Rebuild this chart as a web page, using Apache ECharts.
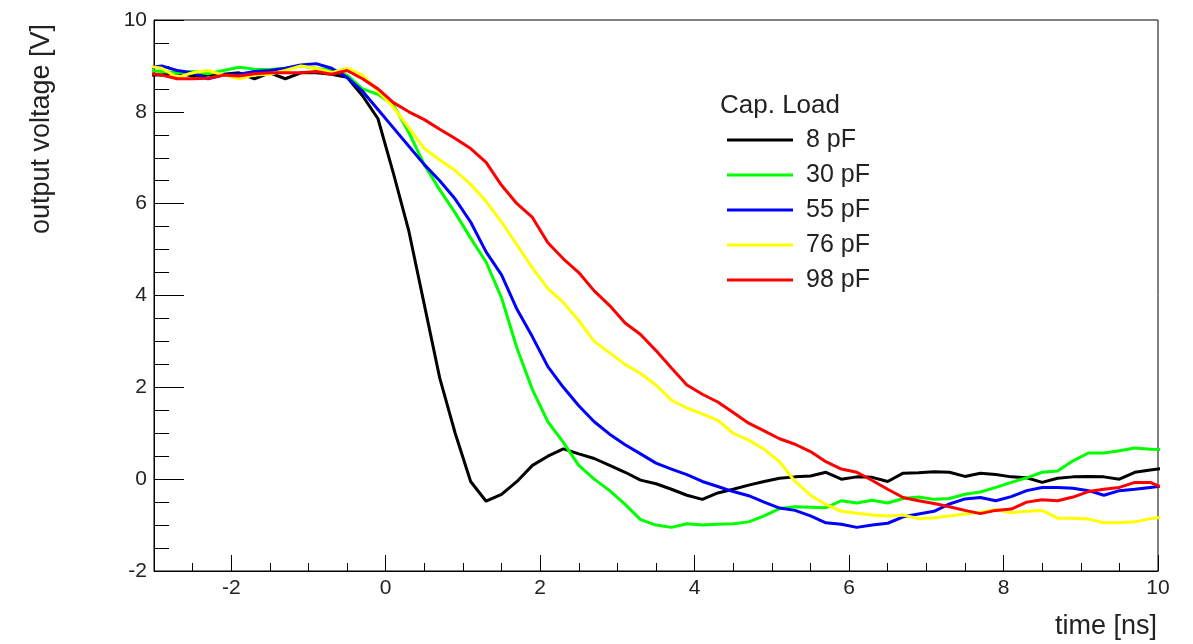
<!DOCTYPE html>
<html>
<head>
<meta charset="utf-8">
<script src="https://cdn.jsdelivr.net/npm/echarts@6/dist/echarts.min.js"></script>
<style>
  html, body { margin: 0; padding: 0; background: #fff; }
  #chart { width: 1193px; height: 644px; }
</style>
</head>
<body>
<div id="chart"></div>
<script>
// time axis samples [ns], step 0.2 (slightly beyond the visible range, clipped by the grid)
const timeNs = [];
for (let k = 0; k <= 66; k++) timeNs.push(Math.round((-3.1 + 0.2 * k) * 10) / 10);

const loadNames = ['8 pF', '30 pF', '55 pF', '76 pF', '98 pF'];
const loadColors = ['#000000', '#00ff00', '#0000ff', '#ffff00', '#ff0000'];

// output voltage [V] per capacitive load
const v8pF = [8.8, 8.8, 8.85, 8.78, 8.8, 8.82, 8.85, 8.72, 8.85, 8.72, 8.85, 8.85, 8.82, 8.75, 8.35, 7.85,
  6.66, 5.4, 3.8, 2.2, 1.0, -0.05, -0.48, -0.33, -0.05, 0.3, 0.5, 0.66, 0.55, 0.45, 0.3, 0.15,
  -0.02, -0.1, -0.22, -0.35, -0.44, -0.3, -0.22, -0.13, -0.05, 0.02, 0.05, 0.07, 0.15, 0.0, 0.05, 0.04,
  -0.05, 0.13, 0.14, 0.16, 0.15, 0.06, 0.13, 0.1, 0.05, 0.03, -0.07, 0.02, 0.05, 0.06, 0.05, 0.0,
  0.15, 0.2, 0.24];
const v30pF = [8.9, 8.88, 8.85, 8.88, 8.83, 8.9, 8.97, 8.93, 8.92, 8.95, 9.0, 8.95, 8.9, 8.8, 8.5, 8.38,
  8.15, 7.55, 6.85, 6.3, 5.8, 5.25, 4.73, 3.95, 2.85, 1.95, 1.25, 0.8, 0.3, 0.0, -0.25, -0.55,
  -0.88, -1.0, -1.05, -0.97, -1.0, -0.98, -0.97, -0.93, -0.8, -0.64, -0.6, -0.61, -0.62, -0.47, -0.52, -0.46,
  -0.52, -0.42, -0.39, -0.44, -0.42, -0.33, -0.28, -0.18, -0.07, 0.03, 0.15, 0.18, 0.4, 0.57, 0.57, 0.62,
  0.68, 0.65, 0.64];
const v55pF = [8.95, 9.0, 8.9, 8.85, 8.72, 8.8, 8.82, 8.88, 8.9, 8.95, 9.02, 9.05, 8.95, 8.75, 8.45, 8.05,
  7.65, 7.25, 6.85, 6.5, 6.1, 5.6, 4.95, 4.45, 3.7, 3.1, 2.45, 2.0, 1.6, 1.25, 0.98, 0.75,
  0.55, 0.35, 0.22, 0.1, -0.05, -0.16, -0.27, -0.36, -0.5, -0.63, -0.68, -0.8, -0.95, -0.98, -1.05, -1.0,
  -0.96, -0.82, -0.76, -0.7, -0.54, -0.43, -0.4, -0.47, -0.38, -0.25, -0.18, -0.18, -0.2, -0.25, -0.35, -0.25,
  -0.22, -0.18, -0.14];
const v76pF = [9.0, 8.95, 8.75, 8.85, 8.9, 8.8, 8.72, 8.8, 8.82, 8.9, 9.0, 8.95, 8.85, 8.95, 8.8, 8.45,
  8.1, 7.65, 7.2, 6.95, 6.72, 6.42, 6.05, 5.6, 5.1, 4.6, 4.15, 3.85, 3.45, 3.0, 2.75, 2.5,
  2.3, 2.05, 1.72, 1.55, 1.42, 1.28, 1.0, 0.85, 0.65, 0.38, -0.05, -0.35, -0.55, -0.7, -0.74, -0.78,
  -0.8, -0.78, -0.86, -0.84, -0.8, -0.76, -0.72, -0.66, -0.73, -0.7, -0.68, -0.85, -0.85, -0.87, -0.95, -0.95,
  -0.93, -0.86, -0.82];
const v98pF = [8.85, 8.8, 8.72, 8.72, 8.73, 8.8, 8.78, 8.83, 8.85, 8.85, 8.85, 8.88, 8.82, 8.9, 8.72, 8.5,
  8.2, 8.0, 7.83, 7.62, 7.42, 7.2, 6.9, 6.4, 6.0, 5.7, 5.15, 4.8, 4.5, 4.1, 3.78, 3.4,
  3.15, 2.8, 2.42, 2.05, 1.85, 1.68, 1.45, 1.22, 1.05, 0.88, 0.76, 0.6, 0.38, 0.22, 0.15, -0.03,
  -0.22, -0.4, -0.47, -0.53, -0.6, -0.68, -0.75, -0.68, -0.65, -0.5, -0.45, -0.47, -0.39, -0.27, -0.22, -0.18,
  -0.07, -0.07, -0.22];

const voltageSets = [v8pF, v30pF, v55pF, v76pF, v98pF];

const fontFamily = '"Liberation Sans", Arial, Helvetica, sans-serif';
const textColor = '#222';

const chart = echarts.init(document.getElementById('chart'));

const option = {
  animation: false,
  backgroundColor: '#fff',
  grid: {
    left: 154, right: 35, top: 20, bottom: 73,
    show: true, borderColor: '#000', borderWidth: 1
  },
  legend: {
    orient: 'vertical',
    left: 727, top: 127, padding: 0,
    icon: 'rect',
    itemWidth: 66, itemHeight: 3, itemGap: 9,
    data: loadNames,
    textStyle: { fontFamily, fontSize: 25, color: textColor, lineHeight: 26, padding: [0, 0, 0, 8] }
  },
  xAxis: {
    type: 'value', min: -3, max: 10, splitNumber: 6,
    axisLine: { onZero: false, lineStyle: { color: '#000', width: 1 } },
    axisTick: { inside: true, length: 16, lineStyle: { color: '#000' } },
    minorTick: { show: true, splitNumber: 4, length: 8, lineStyle: { color: '#000' } },
    splitLine: { show: false },
    axisLabel: {
      showMinLabel: false, margin: 7, fontFamily, fontSize: 21, color: textColor,
      formatter: v => (v === -3 ? '' : String(v))
    }
  },
  yAxis: {
    type: 'value', min: -2, max: 10, interval: 2,
    axisLine: { show: true, onZero: false, lineStyle: { color: '#000', width: 1 } },
    axisTick: { show: true, inside: true, length: 30, lineStyle: { color: '#000' } },
    minorTick: { show: true, splitNumber: 4, length: 15, lineStyle: { color: '#000' } },
    splitLine: { show: false },
    axisLabel: { margin: 7, fontFamily, fontSize: 21, color: textColor }
  },
  graphic: [
    {
      type: 'text', x: 720, y: 106,
      style: { text: 'Cap. Load', fontFamily, fontSize: 26, fill: textColor, verticalAlign: 'middle' }
    },
    {
      type: 'text', x: 42, y: 129, rotation: Math.PI / 2,
      style: { text: 'output voltage [V]', fontFamily, fontSize: 27, fill: textColor,
        align: 'center', verticalAlign: 'middle' }
    },
    {
      type: 'text', x: 1157, y: 627,
      style: { text: 'time [ns]', fontFamily, fontSize: 27, fill: textColor,
        align: 'right', verticalAlign: 'middle' }
    }
  ],
  series: loadNames.map((name, i) => ({
    name,
    type: 'line',
    symbol: 'none',
    clip: true,
    color: loadColors[i],
    lineStyle: { width: 3, color: loadColors[i] },
    data: timeNs.map((t, k) => [t, voltageSets[i][k]])
  }))
};

chart.setOption(option);
</script>
</body>
</html>
